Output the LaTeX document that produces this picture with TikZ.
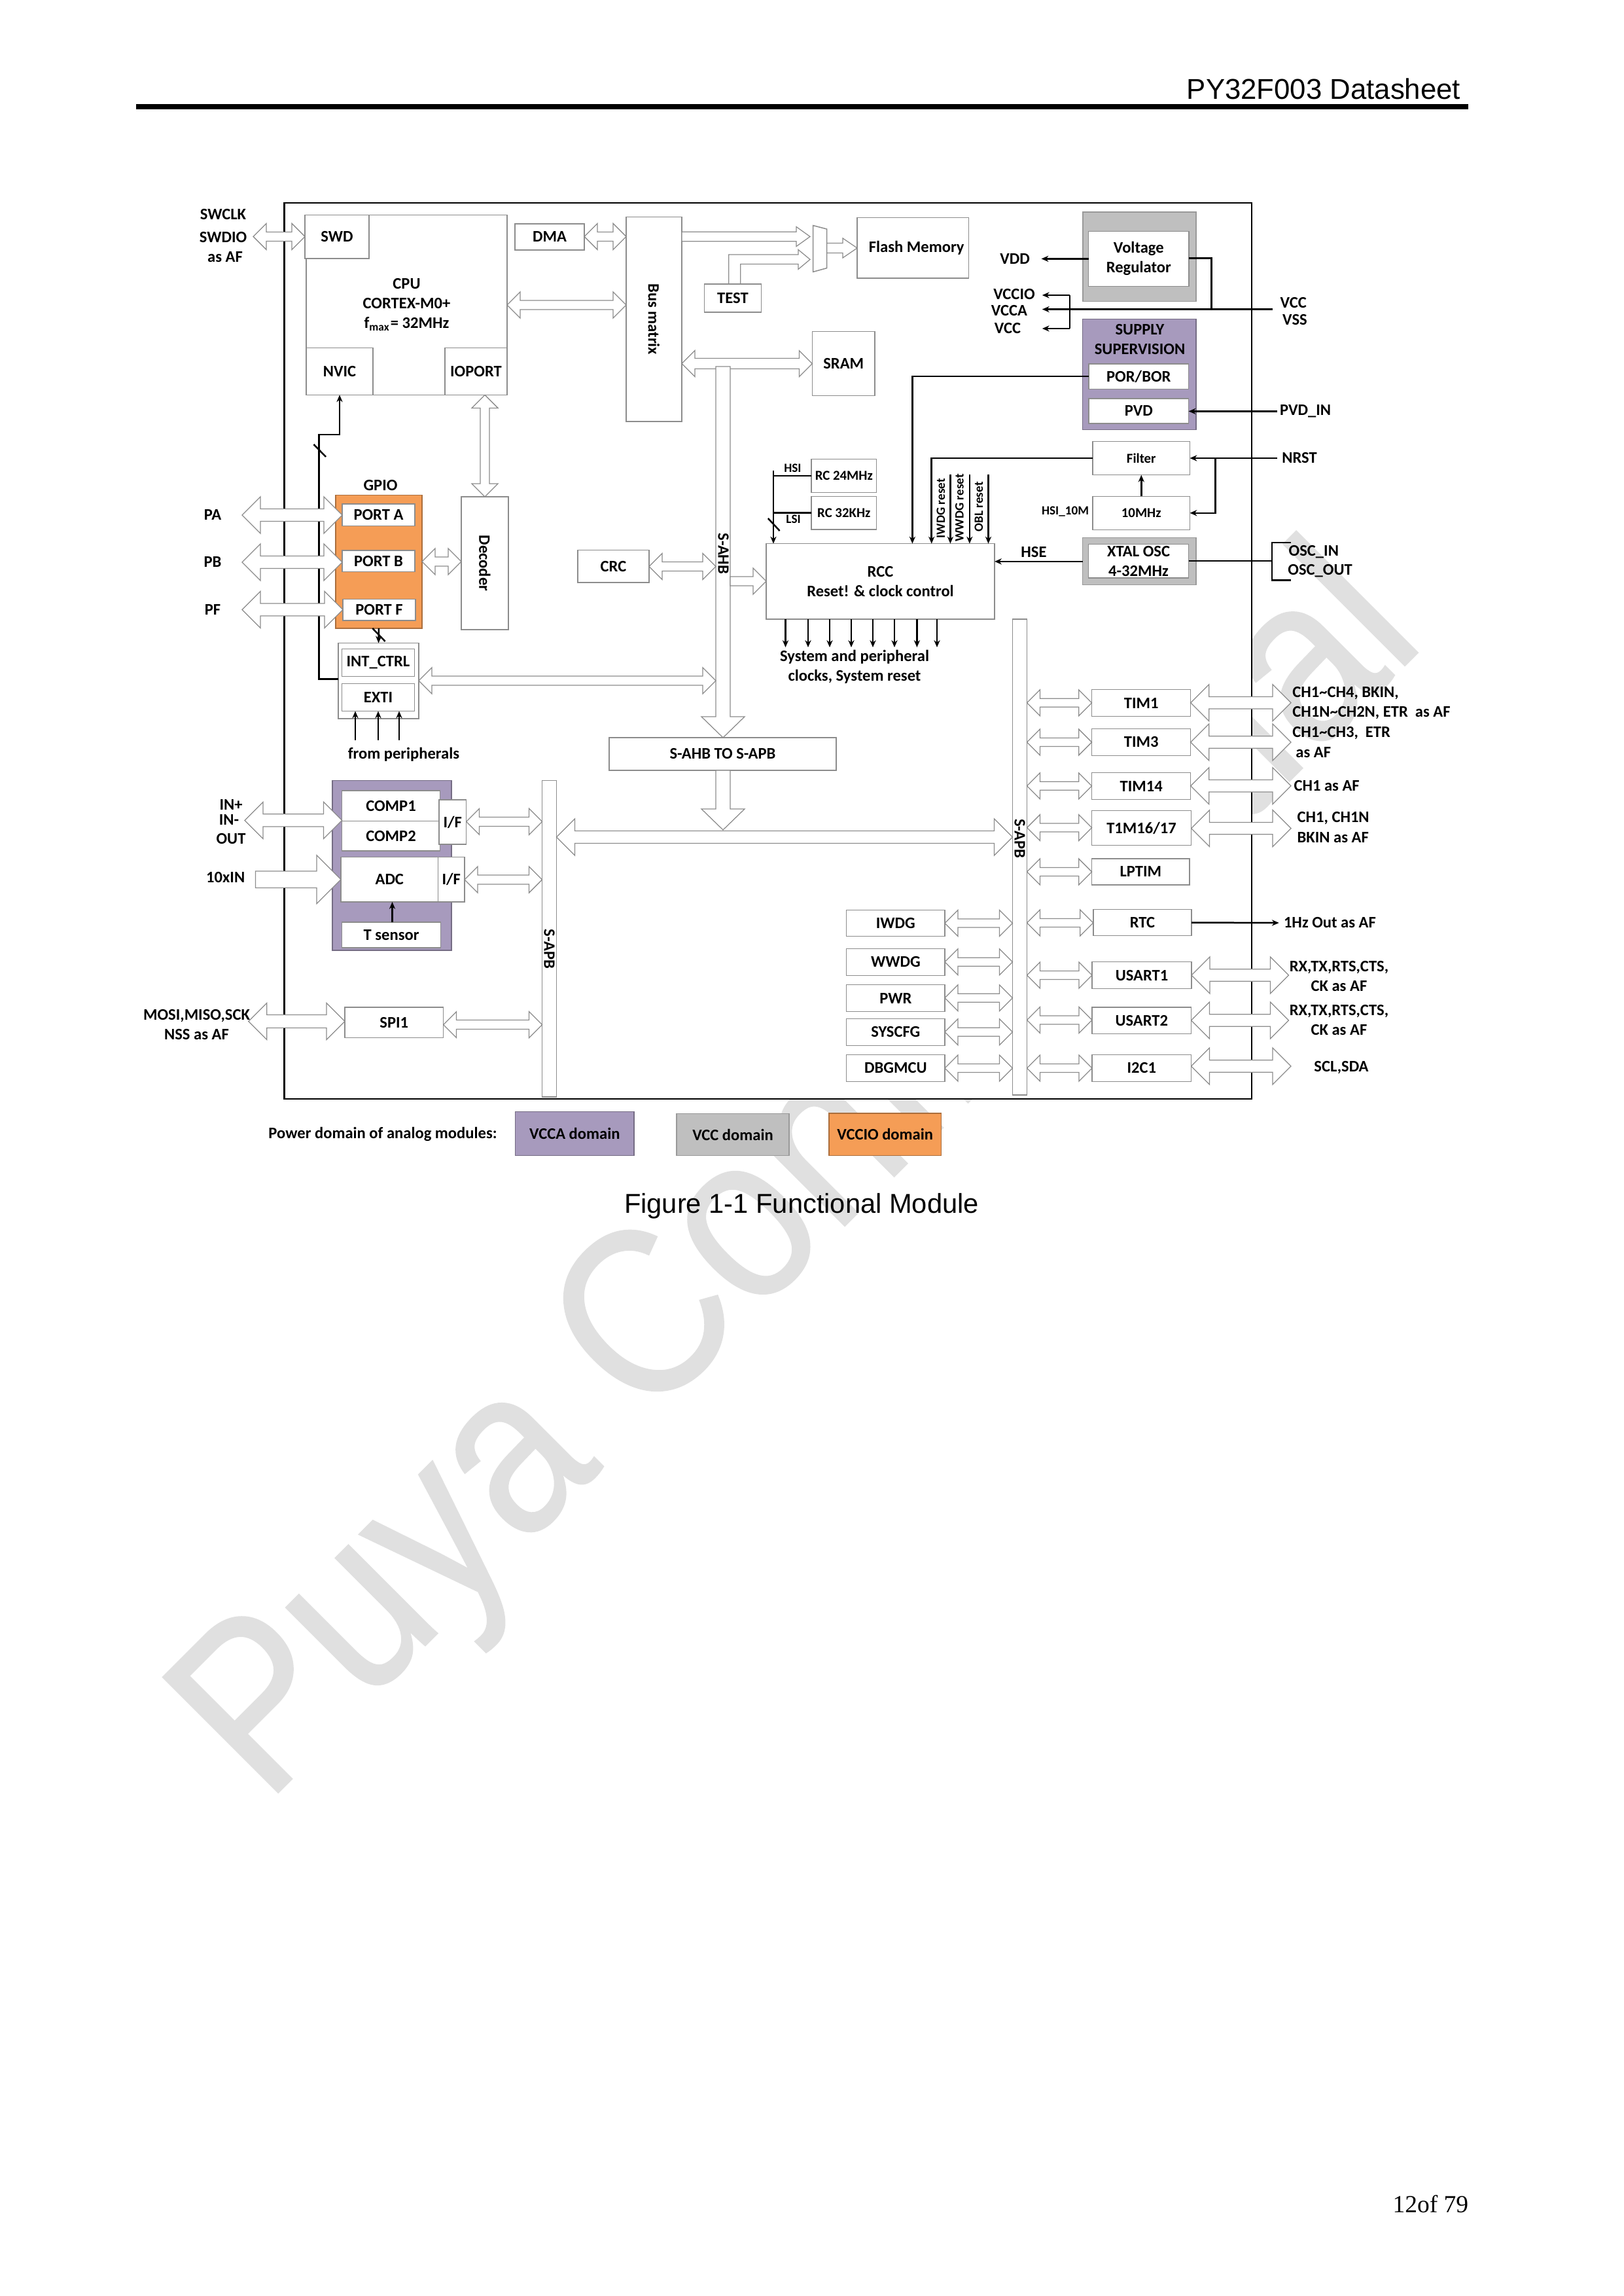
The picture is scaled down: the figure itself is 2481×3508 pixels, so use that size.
\documentclass[tikz,border=0pt]{standalone}
\usepackage{fontspec}
\setmainfont{Carlito}
\newfontfamily\arialf{Liberation Sans}
\newfontfamily\wmfont[FakeBold=0.6]{Liberation Sans}
\newfontfamily\timesf{Liberation Serif}
\usetikzlibrary{arrows.meta,calc}
\definecolor{orangeD}{HTML}{F59D56}
\definecolor{purpleD}{HTML}{A79ABD}
\definecolor{greyD}{HTML}{BFBFBF}
\definecolor{wmark}{HTML}{E0E0E0}
\definecolor{edge}{HTML}{8C8C8C}
\def\U{0.24pt}
\newcommand{\bx}[7][boxs]{\node[#1,minimum width={(#5-#3)*\U},minimum height={(#6-#4)*\U}] (#2) at ({(#3+#5)/2},{(#4+#6)/2}) {#7};}
\newcommand{\lb}[5][]{\node[lab,#1] (#2) at (#3,#4) {#5};}
% horizontal double block arrow: left, right, y, head half, shaft half
\newcommand{\hbi}[5]{\draw[barrow] let \p1=(#1),\p2=(#2),\p3=(0,#3) in
 (\x1,\y3) -- (\x1+#4*\U,\y3+#4*\U) -- (\x1+#4*\U,\y3+#5*\U) -- (\x2-#4*\U,\y3+#5*\U) -- (\x2-#4*\U,\y3+#4*\U) -- (\x2,\y3)
 -- (\x2-#4*\U,\y3-#4*\U) -- (\x2-#4*\U,\y3-#5*\U) -- (\x1+#4*\U,\y3-#5*\U) -- (\x1+#4*\U,\y3-#4*\U) -- cycle;}
% horizontal single block arrow: tail, tip, y, head half, shaft half, head length
\newcommand{\hsg}[6]{\draw[barrow] let \p1=(#1),\p2=(#2),\p3=(0,#3) in
 (\x1,\y3+#5*\U) -- (\x2-#6*\U,\y3+#5*\U) -- (\x2-#6*\U,\y3+#4*\U) -- (\x2,\y3)
 -- (\x2-#6*\U,\y3-#4*\U) -- (\x2-#6*\U,\y3-#5*\U) -- (\x1,\y3-#5*\U) -- cycle;}
% vertical double block arrow: top, bottom, x, head half, shaft half
\newcommand{\vbi}[5]{\draw[barrow] let \p1=(#1),\p2=(#2),\p3=(#3,0) in
 (\x3,\y1) -- (\x3+#4*\U,\y1-#4*\U) -- (\x3+#5*\U,\y1-#4*\U) -- (\x3+#5*\U,\y2+#4*\U) -- (\x3+#4*\U,\y2+#4*\U) -- (\x3,\y2)
 -- (\x3-#4*\U,\y2+#4*\U) -- (\x3-#5*\U,\y2+#4*\U) -- (\x3-#5*\U,\y1-#4*\U) -- (\x3-#4*\U,\y1-#4*\U) -- cycle;}
% vertical single block arrow pointing down: top, tip, x, head half, shaft half, head length
\newcommand{\vsg}[6]{\draw[barrow] let \p1=(#1),\p2=(#2),\p3=(#3,0) in
 (\x3-#5*\U,\y1) -- (\x3+#5*\U,\y1) -- (\x3+#5*\U,\y2+#6*\U) -- (\x3+#4*\U,\y2+#6*\U) -- (\x3,\y2)
 -- (\x3-#4*\U,\y2+#6*\U) -- (\x3-#5*\U,\y2+#6*\U) -- cycle;}
\tikzset{
 boxs/.style={draw=edge,fill=white,line width=0.36pt,inner sep=0pt,outer sep=0pt,align=center,font=\fontsize{5.9}{7.2}\selectfont\bfseries},
 smallbox/.style={boxs,font=\fontsize{5}{6}\selectfont\bfseries},
 frame/.style={draw=black,fill=white,line width=0.5pt,inner sep=0pt,outer sep=0pt},
 orangebox/.style={boxs,fill=orangeD,draw=orangeD!70!black},
 purplebox/.style={boxs,fill=purpleD,draw=purpleD!70!black},
 greybox/.style={boxs,fill=greyD,draw=greyD!80!black},
 lab/.style={inner sep=0pt,outer sep=0pt,align=center,font=\fontsize{5.9}{7.2}\selectfont\bfseries},
 smalllab/.style={font=\fontsize{4.6}{6}\selectfont\bfseries},
 barrow/.style={draw=edge,fill=white,line width=0.3pt,line join=miter},
 wire/.style={black,line width=0.6pt},
 arr/.style={wire,-{Stealth[length=2.6pt,width=2.2pt]}},
}
\begin{document}
\begin{tikzpicture}[x=0.24pt,y=-0.24pt]
\useasboundingbox (0,0) rectangle (2481,3508);
\fill[white] (0,0) rectangle (2481,3508);
% page furniture
\node[inner sep=0pt,anchor=base west,text=wmark,font=\fontsize{87}{90}\selectfont\wmfont,rotate=45,xscale=.884] (wm) at (406,2758) {Puya Confidential};
\node[inner sep=0pt,anchor=base east,font=\fontsize{10.5}{12}\selectfont\arialf] (head) at (2233,152) {PY32F003 Datasheet};
\coordinate (ruleL) at (208,163); \coordinate (ruleR) at (2244,163);
\draw[line width=1.7pt] (ruleL) -- (ruleR);
\node[inner sep=0pt,anchor=base,font=\fontsize{10}{12}\selectfont\arialf] (cap) at (1225,1853) {Figure 1-1 Functional Module};
\node[inner sep=0pt,anchor=base east,font=\fontsize{9}{11}\selectfont\timesf] (foot) at (2245,3380) {12of 79};
% frame
\bx[frame]{frame}{434.5}{310}{1913}{1679}{}
% domains (backgrounds)
\bx[orangebox]{gpio}{513}{756.5}{645}{960}{}
\bx[purplebox]{anag}{508}{1192.6}{690}{1452}{}
\bx[greybox]{vreg}{1655}{324}{1828}{460.5}{}
\bx[purplebox]{supply}{1654.6}{487.3}{1828}{656.5}{}
\bx[greybox]{xtalg}{1654.6}{821.7}{1828}{893.6}{}
% CPU group
\bx{cpu}{468}{328.4}{775}{603.4}{CPU\\CORTEX-M0+\\f\textsubscript{max}= 32MHz}
\bx{swd}{466}{328.4}{564}{395}{SWD}
\bx{nvic}{468}{531.5}{570}{603.4}{NVIC}
\bx{ioport}{680}{531.5}{775}{603.4}{IOPORT}
\bx{dma}{787}{342}{893}{382}{DMA}
\bx[boxs]{busm}{957}{331.5}{1042}{644}{\rotatebox{-90}{Bus matrix}}
\bx{test}{1076.4}{433.8}{1163.5}{477}{TEST}
\bx{flash}{1310}{332.4}{1480.5}{425}{\hspace*{2.6pt}Flash Memory}
\bx{sram}{1241.4}{506.5}{1337}{604.7}{SRAM}
% GPIO
\bx{porta}{523}{770}{634}{803.4}{PORT A}
\bx{portb}{523}{841}{634}{873.5}{PORT B}
\bx{portf}{524}{915.5}{635}{948}{PORT F}
\bx{decoder}{705}{759}{777}{962}{\rotatebox{-90}{Decoder}}
\bx{crc}{883}{840.5}{992}{890}{CRC}
\bx{intbox}{517}{982.5}{640}{1098}{}
\bx{intctrl}{522.6}{991.6}{633.4}{1033.5}{INT\_CTRL}
\bx{exti}{522.6}{1044.7}{633.4}{1086.5}{EXTI}
% RCC
\bx{rcc}{1171}{830.6}{1520}{946}{RCC\\Reset! \& clock control}
\bx[smallbox]{rc24}{1240}{701.6}{1339.6}{752.5}{RC 24MHz}
\bx[smallbox]{rc32}{1240}{758.3}{1339.6}{808.8}{RC 32KHz}
% right column
\bx{reg}{1663.5}{353.4}{1817}{437.3}{Voltage\\Regulator}
\lb{suptxt}{1742}{519}{SUPPLY\\SUPERVISION}
\bx{porbor}{1664}{556}{1816.6}{594.5}{POR/BOR}
\bx{pvd}{1664}{608.8}{1816.6}{647}{PVD}
\bx[smallbox]{filter}{1670}{674.4}{1818.5}{725.7}{Filter}
\bx[smallbox]{tenm}{1670}{758.3}{1818.5}{809.6}{10MHz}
\bx{xtal}{1663.5}{831.5}{1816.6}{882.8}{XTAL OSC\\4-32MHz}
% S-AHB to S-APB
\bx{ahbapb}{931}{1127}{1278}{1177}{S-AHB TO S-APB}
% analog
\bx{comp1}{522.6}{1208}{672.4}{1254.4}{COMP1}
\bx{comp2}{522.6}{1254.4}{672.4}{1300}{COMP2}
\bx{ifa}{671}{1222}{712.6}{1290}{I/F}
\bx{adc}{521}{1309.5}{669.6}{1378}{ADC}
\bx{ifb}{669.6}{1309.5}{710}{1378}{I/F}
\bx{tsens}{522.6}{1409}{673.6}{1448}{T sensor}
\bx{spi}{527}{1539}{677.6}{1585.5}{SPI1}
% buses
\bx{apbL}{828.6}{1192.6}{850.4}{1676}{}
\bx{apbR}{1547.5}{946}{1569.5}{1673}{}
% peripherals right
\bx{tim1}{1668.6}{1053.4}{1819.7}{1094.7}{TIM1}
\bx{tim3}{1668.6}{1113.6}{1819.7}{1154.4}{TIM3}
\bx{tim14}{1668.6}{1180.4}{1819.7}{1221.7}{TIM14}
\bx{tim16}{1668.6}{1238.6}{1820.5}{1291.6}{T1M16/17}
\bx{lptim}{1668.6}{1312}{1818}{1352}{LPTIM}
\bx{rtc}{1670.8}{1389.6}{1821}{1429.4}{RTC}
\bx{usart1}{1669}{1469.7}{1821}{1510.5}{USART1}
\bx{usart2}{1669}{1539}{1820.5}{1579.4}{USART2}
\bx{i2c}{1669}{1611.5}{1820.5}{1652.3}{I2C1}
% peripherals left
\bx{iwdg}{1293.7}{1390.6}{1444}{1430.4}{IWDG}
\bx{wwdg}{1293.7}{1449.3}{1444}{1490.6}{WWDG}
\bx{pwr}{1293.7}{1504.4}{1444}{1545.7}{PWR}
\bx{syscfg}{1293.7}{1556.4}{1444}{1597.3}{SYSCFG}
\bx{dbg}{1293.7}{1611.5}{1444}{1652.3}{DBGMCU}
% power domain legend
\bx[purplebox]{lega}{787.6}{1698.3}{969}{1765.7}{VCCA domain}
\bx[greybox]{legb}{1034}{1701.3}{1206}{1765.7}{VCC domain}
\bx[orangebox]{legc}{1267}{1701}{1438.5}{1765.7}{VCCIO domain}
\lb{legt}{585}{1733}{Power domain of analog modules:}
% labels
\lb{swclk}{341}{328}{SWCLK}
\lb{swdio}{341}{363}{SWDIO}
\lb{asaf}{344}{393}{as AF}
\lb{pa}{325}{787}{PA}
\lb{pb}{325}{859}{PB}
\lb{pf}{325}{932}{PF}
\lb{gpiot}{581.5}{742}{GPIO}
\lb{fromp}{617}{1153}{from peripherals}
\lb{inp}{353}{1229.4}{IN+}
\lb{inm}{350}{1253}{IN-}
\lb{outl}{353}{1282}{OUT}
\lb{tenin}{344.7}{1341}{10xIN}
\lb{mosi}{300.5}{1565.5}{MOSI,MISO,SCK\\NSS as AF}
\lb[smalllab]{hsi}{1211.4}{715.4}{HSI}
\lb[smalllab]{lsi}{1212.6}{793}{LSI}
\lb[rotate=90,smalllab]{r1}{1437.8}{776.6}{IWDG reset}
\lb[rotate=90,smalllab]{r2}{1466.5}{775.7}{WWDG reset}
\lb[rotate=90,smalllab]{r3}{1495.8}{774.4}{OBL reset}
\lb{vddl}{1551}{396}{VDD}
\lb{vcciol}{1550}{449.4}{VCCIO}
\lb{vccal}{1542.4}{474.8}{VCCA}
\lb{vccl}{1540}{502}{VCC}
\lb{vccr}{1976.7}{463}{VCC}
\lb{vssr}{1979}{489}{VSS}
\lb{pvdin}{1995}{628.4}{PVD\_IN}
\lb{nrst}{1986}{700}{NRST}
\lb[smalllab]{hsi10}{1628}{782}{HSI\_10M}
\lb{hse}{1580}{843.6}{HSE}
\lb[anchor=west]{oscin}{1969.7}{843.6}{OSC\_IN}
\lb[anchor=west]{oscout}{1968.4}{872}{OSC\_OUT}
\lb{sysclk}{1306}{1019}{System and peripheral\\clocks, System reset}
\lb[anchor=west]{ch1}{1975.3}{1059.5}{CH1\textasciitilde CH4, BKIN,}
\lb[anchor=west]{ch2}{1975.3}{1089}{CH1N\textasciitilde CH2N, ETR\ \ as AF}
\lb[anchor=west]{ch3}{1975.3}{1119.7}{CH1\textasciitilde CH3,\ \ ETR}
\lb[anchor=west]{ch4}{1980.4}{1149.3}{as AF}
\lb[anchor=west]{ch5}{1977.5}{1200.8}{CH1 as AF}
\lb[anchor=west]{ch6}{1982.6}{1249.8}{CH1, CH1N}
\lb[anchor=west]{ch7}{1982.6}{1279.4}{BKIN as AF}
\lb[anchor=west]{hz}{1962}{1410}{1Hz Out as AF}
\lb{rx1}{2046.4}{1492}{RX,TX,RTS,CTS,\\CK as AF}
\lb{rx2}{2046.4}{1558.5}{RX,TX,RTS,CTS,\\CK as AF}
\lb{scl}{2050}{1631}{SCL,SDA}
% thin connectors
\draw[arr] (intbox.west |- 0,1037.5) -- (487.6,1037.5) -- (487.6,664) -- (nvic.south |- 0,664) -- (nvic.south);
\draw[wire] (479.5,679) -- (498,698);
\draw[arr] (gpio.south) -- (intbox.north);
\draw[wire] (569.3,960) -- (588.7,980);
\coordinate (e1) at (543,1131); \coordinate (e2) at (578,1131); \coordinate (e3) at (610,1131);
\draw[arr] (e1) -- (e1 |- exti.south);
\draw[arr] (e2) -- (e2 |- exti.south);
\draw[arr] (e3) -- (e3 |- exti.south);
\draw[arr] (tsens.north -| 599.5,0) -- (adc.south -| 599.5,0);
\coordinate (hsitop) at (1182,719.5);
\draw[arr] (hsitop) -- (rcc.north -| hsitop);
\draw[wire] (rc24.west) -- (rc24.west -| hsitop);
\draw[wire] (rc32.west) -- (rc32.west -| hsitop);
\draw[wire] (1173.8,792) -- (1191.6,811);
\draw[arr] (porbor.west) -| (rcc.north -| 1394.4,0);
\draw[arr] (filter.west) -| (rcc.north -| 1423.7,0);
\coordinate (ra) at (1452.4,725); \coordinate (rb) at (1481.8,725); \coordinate (rc) at (1510.5,725);
\draw[arr] (ra) -- (rcc.north -| ra);
\draw[arr] (rb) -- (rcc.north -| rb);
\draw[arr] (rc) -- (rcc.north -| rc);
\foreach \q in {1200.5,1235,1268,1301,1334,1367,1401.4,1432} \draw[arr] (rcc.south -| \q,0) -- (\q,989);
\coordinate (vddtip) at (1591.5,395.4);
\draw[arr] (reg.west |- vddtip) -- (vddtip);
\coordinate (vccin) at (1945.4,472.6);
\coordinate (vccatip) at (1592.8,472.6);
\draw[arr] (vccin) -- (vccatip);
\draw[wire] (reg.east |- 0,394.5) -- (1851.7,394.5) -- (1851.7,472.6);
\coordinate (brT) at (1635,451); \coordinate (brB) at (1635,502);
\coordinate (viotip) at (1592.8,451); \coordinate (vcctip) at (1592.8,502);
\draw[wire] (brT) -- (brB);
\draw[arr] (brT) -- (viotip);
\draw[arr] (brB) -- (vcctip);
\coordinate (pvdsrc) at (1952,628.4);
\draw[arr] (pvdsrc) -- (pvd.east |- pvdsrc);
\coordinate (nrsrc) at (1952,700);
\draw[arr] (nrsrc) -- (filter.east |- nrsrc);
\draw[arr] (1857.4,700) -- (1857.4,783.8) -- (tenm.east |- 0,783.8);
\draw[arr] (tenm.north) -- (filter.south);
\draw[arr] (xtalg.west |- 0,857.9) -- (rcc.east |- 0,857.9);
\draw[wire] (xtal.east |- 0,857) -- (1944,857);
\draw[wire] (1973,829) -- (1944,829) -- (1944,886.4) -- (1973,886.4);
\draw[arr] (rtc.east) -- (hz.west -| 1954.7,0);
% block arrows
\coordinate (swdt) at (387,361);
\hbi{swdt}{swd.west}{361.4}{20}{7}
\hbi{dma.east}{busm.west}{361.4}{20}{7}
\hbi{cpu.east}{busm.west}{466}{20}{7}
\vbi{ioport.south}{decoder.north}{741}{20}{7}
\coordinate (pat) at (370,787);
\hbi{pat}{porta.west}{787}{28}{9.5}
\hbi{pat}{portb.west}{859}{28}{9.5}
\hbi{pat}{portf.west}{931.5}{28}{9.5}
\hbi{gpio.east}{decoder.west}{858}{20}{7}
% bus matrix to memory
\coordinate (muxL) at (1242.6,380);
\coordinate (muxR) at (1263.7,380);
\draw[boxs] (1242.6,344.5) -- (1263.7,350) -- (1263.7,409.6) -- (1242.6,415.4) -- cycle;
\coordinate (muxA) at (1238,361.5);
\hsg{busm.east}{muxA}{361.5}{15}{7.3}{21}
\draw[barrow] let \p1=(test.north),\p2=(muxA) in
 (1113.8*\U,\y1) -- (1113.8*\U,-389*\U) -- (\x2-18*\U,-389*\U) -- (\x2-18*\U,-381.5*\U) -- (\x2,-396.4*\U) -- (\x2-18*\U,-411.4*\U) -- (\x2-18*\U,-403.4*\U) -- (1131.7*\U,-403.4*\U) -- (1131.7*\U,\y1) -- cycle;
\hsg{muxR}{flash.west}{379}{15}{7.6}{22}
\hbi{busm.east}{sram.west}{555.6}{20}{8}
% S-AHB
\coordinate (ahbtop) at (1105,560);
\coordinate (ahbtip) at (1104.5,1268);
\vsg{ahbtop}{ahbapb.north}{1105}{33}{11}{32}
\vsg{ahbapb.south}{ahbtip}{1105}{33}{11}{32}
\node[lab,rotate=-90] (ahbl) at (1105.5,846) {S-AHB};
\coordinate (ahbL) at (1094,865); \coordinate (ahbR) at (1116,888);
\hbi{crc.east}{ahbL}{865.5}{20}{7}
\hbi{intbox.east}{ahbL}{1040}{20}{7}
\hsg{ahbR}{rcc.west}{888}{20}{7}{20}
% S-APB
\hbi{apbL.east}{apbR.west}{1279}{28}{9.5}
\node[lab,rotate=-90] (apbl1) at (839.5,1450) {S-APB};
\node[lab,rotate=-90] (apbl2) at (1558.5,1281.4) {S-APB};
\coordinate (int) at (374,1253);
\hbi{int}{comp1.south west}{1253.4}{28}{9.7}
\hsg{tenin.east -| 390.6,0}{adc.west}{1343.7}{37}{12.7}{37}
\hbi{ifa.east}{apbL.west}{1255.4}{20}{7}
\hbi{ifb.east}{apbL.west}{1344}{20}{7}
\coordinate (spit) at (379.7,1560);
\hbi{spit}{spi.west}{1560.5}{28}{10}
\hbi{spi.east}{apbL.west}{1565.6}{20}{7}
% peripherals
\hbi{iwdg.east}{apbR.west}{1410.5}{20}{6.5}
\hbi{wwdg.east}{apbR.west}{1469.7}{20}{6.5}
\hbi{pwr.east}{apbR.west}{1524.8}{20}{6.5}
\hbi{syscfg.east}{apbR.west}{1576.8}{20}{6.5}
\hbi{dbg.east}{apbR.west}{1632}{20}{6.5}
\hbi{apbR.east}{tim1.west}{1073.8}{20}{6.5}
\hbi{apbR.east}{tim3.west}{1134}{20}{6.5}
\hbi{apbR.east}{tim14.west}{1200.8}{20}{6.5}
\hbi{apbR.east}{tim16.west}{1264.6}{20}{6.5}
\hbi{apbR.east}{lptim.west}{1332}{20}{6.5}
\hbi{apbR.east}{rtc.west}{1410}{20}{6.5}
\hbi{apbR.east}{usart1.west}{1490}{20}{6.5}
\hbi{apbR.east}{usart2.west}{1558.5}{20}{6.5}
\hbi{apbR.east}{i2c.west}{1632}{20}{6.5}
\coordinate (oa) at (1973,1100); \coordinate (ob) at (1969.4,1100);
\hbi{tim1.east}{oa}{1073.8}{28}{9.2}
\hbi{tim3.east}{oa}{1134}{28}{9.2}
\hbi{tim14.east}{oa}{1200.8}{28}{9.2}
\hbi{tim16.east}{oa}{1265.6}{28}{9.2}
\hbi{usart1.east}{ob}{1490}{28}{9.2}
\hbi{usart2.east}{ob}{1559}{28}{9.2}
\hbi{i2c.east}{oa}{1629}{28}{9.2}
\end{tikzpicture}
\end{document}
